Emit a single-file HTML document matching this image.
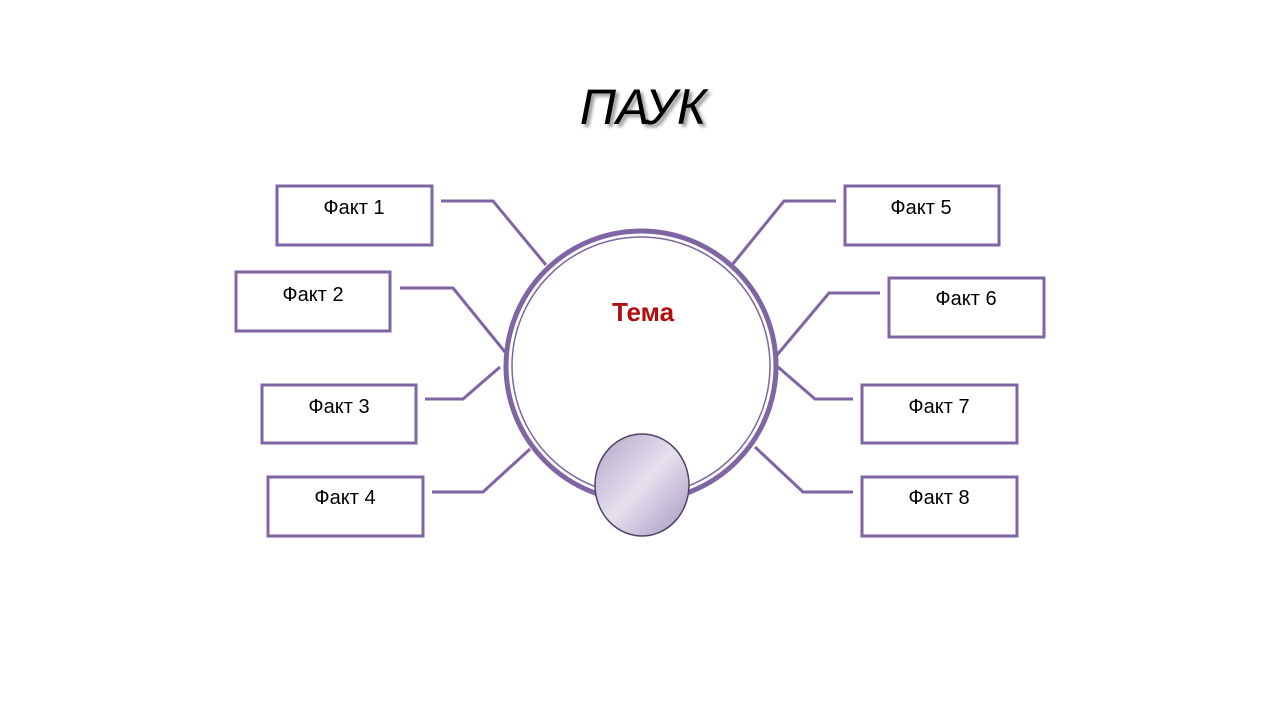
<!DOCTYPE html>
<html><head><meta charset="utf-8"><style>
body{margin:0;background:#fff;}
svg{display:block}
</style></head><body>
<svg width="1280" height="720" viewBox="0 0 1280 720" xmlns="http://www.w3.org/2000/svg">
<defs>
<linearGradient id="g" x1="0" y1="0" x2="1" y2="1">
<stop offset="0" stop-color="#b3a6c9"/><stop offset="0.5" stop-color="#e6e0ee"/><stop offset="1" stop-color="#a497bf"/>
</linearGradient>
<filter id="sh"><feGaussianBlur stdDeviation="1.5"/></filter>
</defs>
<text x="643" y="124" text-anchor="middle" font-family="Liberation Sans, sans-serif" font-size="50" font-style="italic" fill="#999" filter="url(#sh)" transform="translate(3,3)">ПАУК</text>
<text x="643" y="124" text-anchor="middle" font-family="Liberation Sans, sans-serif" font-size="50" font-style="italic" fill="#000">ПАУК</text>
<g fill="none" stroke="#7f65a3" stroke-width="3">
<polyline points="441,201 493,201 546,265"/>
<polyline points="400,288 453,288 505,352"/>
<polyline points="425,399 463,399 500,367"/>
<polyline points="432,492 483,492 530,449"/>
<polyline points="836,201 784,201 732,265"/>
<polyline points="880,293 829,293 777,355"/>
<polyline points="853,399 815,399 778,367"/>
<polyline points="853,492 803,492 755,447"/>
<rect x="277" y="186" width="155" height="59"/>
<rect x="236" y="272" width="154" height="59"/>
<rect x="262" y="385" width="154" height="58"/>
<rect x="268" y="477" width="155" height="59"/>
<rect x="845" y="186" width="154" height="59"/>
<rect x="889" y="278" width="155" height="59"/>
<rect x="862" y="385" width="155" height="58"/>
<rect x="862" y="477" width="155" height="59"/>
</g>
<circle cx="641" cy="366" r="135" fill="#fff" stroke="#7f65a3" stroke-width="5"/>
<circle cx="641" cy="366" r="129" fill="none" stroke="#7f65a3" stroke-width="1.5"/>
<ellipse cx="642" cy="485" rx="47" ry="51" fill="url(#g)" stroke="#4f4466" stroke-width="1.5"/>
<text x="643" y="321" text-anchor="middle" font-family="Liberation Sans, sans-serif" font-size="26" font-weight="bold" fill="#b00d0d">Тема</text>
<g font-family="Liberation Sans, sans-serif" font-size="20" fill="#000" text-anchor="middle">
<text x="354" y="214">Факт 1</text>
<text x="313" y="301">Факт 2</text>
<text x="339" y="413">Факт 3</text>
<text x="345" y="504">Факт 4</text>
<text x="921" y="214">Факт 5</text>
<text x="966" y="305">Факт 6</text>
<text x="939" y="413">Факт 7</text>
<text x="939" y="504">Факт 8</text>
</g>
</svg>
</body></html>
